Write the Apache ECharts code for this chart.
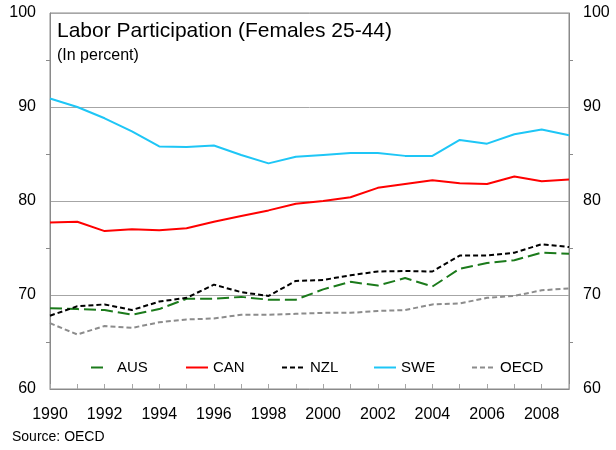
<!DOCTYPE html>
<html>
<head>
<meta charset="utf-8">
<script src="https://cdn.jsdelivr.net/npm/echarts@6/dist/echarts.min.js"></script>
<style>
  html, body { margin: 0; padding: 0; background: #fff; }
  #chart { width: 616px; height: 450px; }
</style>
</head>
<body>
<div id="chart"></div>
<script>
// Labour force participation, females aged 25-44 (percent)
const years = ['1990','1991','1992','1993','1994','1995','1996','1997','1998','1999',
               '2000','2001','2002','2003','2004','2005','2006','2007','2008','2009'];
const aus  = [68.6, 68.5, 68.4, 67.9, 68.5, 69.6, 69.6, 69.8, 69.5, 69.5,
              70.6, 71.4, 71.0, 71.8, 70.9, 72.8, 73.4, 73.7, 74.5, 74.4];
const can  = [77.7, 77.8, 76.8, 77.0, 76.9, 77.1, 77.8, 78.4, 79.0, 79.7,
              80.0, 80.4, 81.4, 81.8, 82.2, 81.9, 81.8, 82.6, 82.1, 82.3];
const nzl  = [67.8, 68.8, 69.0, 68.4, 69.3, 69.7, 71.1, 70.3, 69.9, 71.5,
              71.6, 72.1, 72.5, 72.55, 72.5, 74.2, 74.2, 74.5, 75.4, 75.1];
const swe  = [90.9, 90.0, 88.8, 87.4, 85.8, 85.75, 85.9, 84.9, 84.0, 84.7,
              84.9, 85.1, 85.1, 84.8, 84.8, 86.5, 86.1, 87.1, 87.6, 87.0];
const oecd = [67.0, 65.8, 66.7, 66.5, 67.1, 67.4, 67.5, 67.9, 67.9, 68.0,
              68.1, 68.1, 68.3, 68.4, 69.0, 69.1, 69.7, 69.9, 70.5, 70.7];
const yTicks = [60, 70, 80, 90, 100];

const FONT = 'Liberation Sans, Arial, sans-serif';
const AXIS_GRAY = '#8a8a8a';

function valueAxis(pos) {
  return {
    type: 'value',
    position: pos,
    min: yTicks[0],
    max: yTicks[yTicks.length - 1],
    interval: yTicks[1] - yTicks[0],
    axisLine: { show: true, lineStyle: { color: AXIS_GRAY, width: 1 } },
    axisTick: { show: false, inside: true },
    // half-step ticks drawn into the plot area
    minorTick: { show: true, splitNumber: 2, length: -4, lineStyle: { color: AXIS_GRAY } },
    axisLabel: { color: '#000', fontSize: 16, fontFamily: FONT, margin: 14 },
    splitLine: { show: pos === 'left', lineStyle: { color: '#a6a6a6', width: 1 } }
  };
}

function line(name, values, color, dash, width) {
  return {
    name: name,
    type: 'line',
    data: values,
    symbol: 'none',
    silent: true,
    animation: false,
    lineStyle: { color: color, width: width || 2, type: dash || 'solid' },
    itemStyle: { color: color }
  };
}

function legendItem(name, left, w, pad) {
  return {
    data: [name],
    left: left,
    top: 355,
    itemWidth: w,
    itemHeight: 14,
    selectedMode: false,
    itemStyle: { opacity: 0 },
    textStyle: { color: '#000', fontSize: 15, fontFamily: FONT, padding: [0, 0, 0, pad || 0] }
  };
}

const chart = echarts.init(document.getElementById('chart'), null, { renderer: 'canvas' });
chart.setOption({
  animation: false,
  backgroundColor: '#fff',
  grid: { left: 50, right: 47, top: 13, bottom: 61, show: true, borderColor: AXIS_GRAY, borderWidth: 1, backgroundColor: 'transparent' },
  title: [
    { text: 'Labor Participation (Females 25-44)', left: 57, top: 21, padding: 0,
      textStyle: { fontSize: 21, fontWeight: 'normal', color: '#000', fontFamily: FONT } },
    { text: '(In percent)', left: 57, top: 48, padding: 0,
      textStyle: { fontSize: 16, fontWeight: 'normal', color: '#000', fontFamily: FONT } },
    { text: 'Source: OECD', left: 12, top: 430, padding: 0,
      textStyle: { fontSize: 14, fontWeight: 'normal', color: '#000', fontFamily: FONT } }
  ],
  legend: [
    legendItem('AUS', 85, 16, 5),
    legendItem('CAN', 180, 22, 0),
    legendItem('NZL', 276, 23, 0),
    legendItem('SWE', 368, 22, 0),
    legendItem('OECD', 466, 23, 0)
  ],
  xAxis: {
    type: 'category',
    data: years,
    boundaryGap: false,
    axisLine: { show: true, lineStyle: { color: AXIS_GRAY, width: 1 } },
    axisTick: { show: true, inside: true, length: 5, interval: 0, lineStyle: { color: '#a6a6a6' } },
    axisLabel: { interval: 1, color: '#000', fontSize: 16, fontFamily: FONT, margin: 18 },
    splitLine: { show: false }
  },
  yAxis: [valueAxis('left'), valueAxis('right')],
  series: [
    line('AUS', aus, '#1b7a1b', [12, 5]),
    line('CAN', can, '#ff0000'),
    line('NZL', nzl, '#000000', [5, 3]),
    line('SWE', swe, '#1ec6f6'),
    line('OECD', oecd, '#8c8c8c', [5, 3])
  ]
});
</script>
</body>
</html>
